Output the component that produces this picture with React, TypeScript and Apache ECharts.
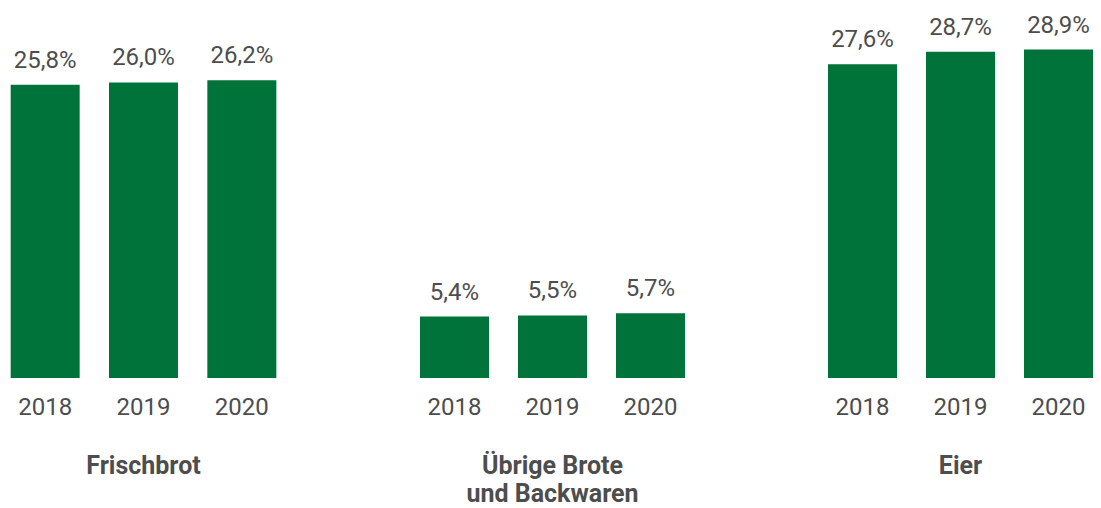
import React, { useEffect, useRef } from "react";
import * as echarts from "echarts";

const years = ["2018", "2019", "2020"];
const groupNames = ["Frischbrot", "Übrige Brote\nund Backwaren", "Eier"];
const frischbrot = [25.8, 26.0, 26.2];
const uebrigeBrote = [5.4, 5.5, 5.7];
const eier = [27.6, 28.7, 28.9];

const GREEN = "#00733a";
const TEXT = "#4d4d4d";
const FONT = "Roboto, 'Noto Sans', sans-serif";

export default function App() {
  const ref = useRef<HTMLDivElement>(null);
  useEffect(() => {
    if (!ref.current) return;
    const chart = echarts.init(ref.current, undefined, { renderer: "svg" });
    const groups = [frischbrot, uebrigeBrote, eier];
    const lefts = [0, 409.5, 817.5];
    const widths = [295, 294, 294];
    chart.setOption({
      animation: false,
      grid: lefts.map((l, i) => ({
        left: l,
        width: widths[i],
        top: 37,
        bottom: 130,
        outerBoundsMode: "none",
        containLabel: false,
      })),
      xAxis: groups.map((_, i) => ({
        type: "category",
        gridIndex: i,
        data: years,
        axisLine: { show: false },
        axisTick: { show: false },
        axisLabel: { fontSize: 24, color: TEXT, margin: 17, fontFamily: FONT },
        name: groupNames[i],
        nameLocation: "middle",
        nameGap: 73,
        nameTextStyle: {
          fontSize: 25,
          fontWeight: "bold",
          color: TEXT,
          fontFamily: FONT,
          lineHeight: 28,
          verticalAlign: "top",
        },
      })),
      yAxis: groups.map((_, i) => ({
        type: "value",
        gridIndex: i,
        min: 0,
        max: 30,
        show: false,
        splitLine: { show: false },
      })),
      series: groups.map((vals, i) => ({
        type: "bar",
        xAxisIndex: i,
        yAxisIndex: i,
        data: vals,
        barWidth: 69,
        itemStyle: { color: GREEN },
        label: {
          show: true,
          position: "top",
          distance: 13,
          fontSize: 24,
          color: TEXT,
          fontFamily: FONT,
          formatter: (p: any) => p.value.toFixed(1).replace(".", ",") + "%",
        },
      })),
    });
    return () => chart.dispose();
  }, []);
  return (
    <div
      ref={ref}
      style={{ position: "absolute", left: -4, top: 0, width: 1105, height: 508, background: "#fff" }}
    />
  );
}
